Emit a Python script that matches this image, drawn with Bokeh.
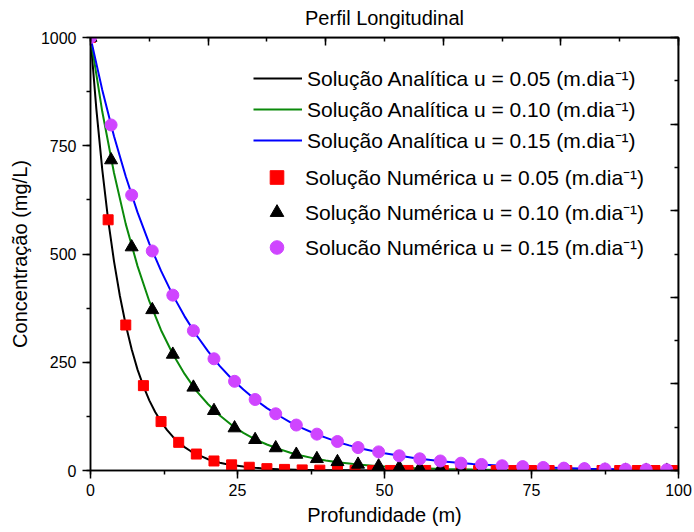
from bokeh.plotting import figure
from bokeh.models import Range1d, LinearAxis, SingleIntervalTicker, Legend, LegendItem, Span
from bokeh.embed import file_html
from bokeh.resources import INLINE

FONT = "Liberation Sans"

# ---- data ----
# numerical solution u = 0.05 (red squares)
num05_x = [0, 3, 6, 9, 12, 15, 18, 21, 24, 27, 30, 33, 36, 39, 42, 45, 48, 51, 54, 57,
           60, 63, 66, 69, 72, 75, 78, 81, 84, 87, 90, 93, 96, 99]
num05_y = [1000, 579, 336, 196, 113, 65, 38, 22, 13, 7.5, 4.3, 2.5, 1.4, 0.8, 0.5, 0.3, 0.2, 0.1, 0.1, 0.1,
           0, 0, 0, 0, 0, 0, 0, 0, 0, 0, 0, 0, 0, 0]
# numerical solution u = 0.10 (black triangles)
num10_x = [0, 3.5, 7, 10.5, 14, 17.5, 21, 24.5, 28, 31.5, 35, 38.5, 42, 45.5, 49, 52.5, 56, 59.5,
           63, 66.5, 70, 73.5, 77, 80.5, 84, 87.5, 91, 94.5, 98]
num10_y = [1000, 717, 516, 371, 268, 192, 138, 98, 71, 52, 37, 27, 20, 14, 10, 7, 5, 3.7,
           2.7, 1.9, 1.4, 1, 0.7, 0.5, 0.4, 0.3, 0.2, 0.1, 0.1]
# numerical solution u = 0.15 (magenta circles)
num15_x = [0, 3.5, 7, 10.5, 14, 17.5, 21, 24.5, 28, 31.5, 35, 38.5, 42, 45.5, 49, 52.5, 56, 59.5,
           63, 66.5, 70, 73.5, 77, 80.5, 84, 87.5, 91, 94.5, 98]
num15_y = [1000, 798, 636, 507, 405, 323, 258, 206, 164, 131, 105, 84, 67, 53, 43, 34, 27, 22,
           17, 14, 11, 9, 7, 5.5, 4.4, 3.5, 2.8, 2.2, 1.8]

# analytical solutions (curves)
ana05_x = [0, 1, 2, 3, 4, 5, 6, 7, 8, 9, 10, 11, 12, 13, 14, 15, 16, 17, 18, 19, 20,
           21, 22, 23, 24, 25, 26, 27, 28, 29, 30, 32, 35, 40, 45, 50, 60, 70, 80, 90, 100]
ana05_y = [1000, 834, 695, 579, 483, 403, 336, 280, 233, 195, 162, 135, 113, 94, 78, 65, 54, 45, 38, 32, 26,
           22, 18, 15, 13, 11, 9, 7.4, 6.2, 5.1, 4.3, 3.0, 1.7, 0.7, 0.3, 0.1, 0, 0, 0, 0, 0]
ana10_x = [0, 2, 4, 6, 8, 10, 12, 14, 16, 18, 20, 22, 24, 26, 28, 30, 32, 34, 36, 38, 40,
           42, 44, 46, 48, 50, 55, 60, 65, 70, 80, 90, 100]
ana10_y = [1000, 829, 687, 569, 472, 391, 324, 269, 223, 184, 153, 127, 105, 87, 72, 60, 50, 41, 34, 28, 23,
           19, 16, 13, 11, 9, 5.7, 3.6, 2.2, 1.4, 0.5, 0.2, 0.1]
ana15_x = [0, 2, 4, 6, 8, 10, 12, 14, 16, 18, 20, 22, 24, 26, 28, 30, 32, 34, 36, 38, 40,
           42, 44, 46, 48, 50, 55, 60, 65, 70, 75, 80, 85, 90, 95, 100]
ana15_y = [1000, 879, 772, 679, 596, 524, 461, 405, 356, 313, 275, 241, 212, 187, 164, 144, 127, 111, 98, 86, 76,
           66, 58, 51, 45, 40, 29, 21, 15, 11, 8, 5.7, 4.1, 3.0, 2.2, 1.6]

labels_ana = ["Solução Analítica u = 0.05 (m.dia⁻¹)",
              "Solução Analítica u = 0.10 (m.dia⁻¹)",
              "Solução Analítica u = 0.15 (m.dia⁻¹)"]
labels_num = ["Solução Numérica u = 0.05 (m.dia⁻¹)",
              "Solução Numérica u = 0.10 (m.dia⁻¹)",
              "Solucão Numérica u = 0.15 (m.dia⁻¹)"]

# axis limits and the ticks of the mirrored (unlabelled) top and right axes
x_min, x_max = 0, 100
y_min, y_max = 0, 1000
top_ticks = [0, 20, 40, 60, 80, 100]
right_ticks = [0, 200, 400, 600, 800, 1000]

# ---- figure ----
p = figure(width=694, height=532, x_range=Range1d(x_min, x_max), y_range=Range1d(y_min, y_max),
           output_backend="svg", toolbar_location=None,
           min_border_left=90, min_border_right=16, min_border_top=37, min_border_bottom=62,
           title="Perfil Longitudinal")
p.outline_line_color = "black"
p.outline_line_width = 1.5
p.outline_line_alpha = 1.0
p.grid.visible = False

p.title.text_font = FONT
p.title.text_font_style = "normal"
p.title.text_font_size = "20px"
p.title.text_color = "black"
p.title.align = "center"
p.title.standoff = 0

# bottom axis
xa = p.xaxis[0]
xa.ticker = SingleIntervalTicker(interval=25, num_minor_ticks=2)
xa.axis_label = "Profundidade (m)"
# left axis
ya = p.yaxis[0]
ya.ticker = SingleIntervalTicker(interval=250, num_minor_ticks=2)
ya.axis_label = "Concentração (mg/L)"

for ax in (xa, ya):
    ax.axis_line_width = 1.5
    ax.axis_line_color = "black"
    ax.major_tick_line_width = 1.5
    ax.minor_tick_line_width = 1.5
    ax.major_tick_in = 0
    ax.major_tick_out = 8
    ax.minor_tick_in = 0
    ax.minor_tick_out = 4
    ax.major_label_text_font = FONT
    ax.major_label_text_font_size = "16px"
    ax.major_label_text_color = "black"
    ax.axis_label_text_font = FONT
    ax.axis_label_text_font_size = "20px"
    ax.axis_label_text_font_style = "normal"
    ax.axis_label_text_color = "black"
xa.major_label_standoff = 5
xa.axis_label_standoff = 5
ya.major_label_standoff = 6
ya.axis_label_standoff = 7

# mirrored top / right axes (ticks inside, blank labels)
top = LinearAxis(ticker=SingleIntervalTicker(interval=20, num_minor_ticks=2),
                 major_label_overrides={t: " " for t in top_ticks})
right = LinearAxis(ticker=SingleIntervalTicker(interval=200, num_minor_ticks=2),
                   major_label_overrides={t: " " for t in right_ticks})
for ax in (top, right):
    ax.axis_line_width = 1.5
    ax.major_tick_line_width = 1.5
    ax.minor_tick_line_width = 1.5
    ax.major_tick_in = 8
    ax.major_tick_out = 0
    ax.minor_tick_in = 4
    ax.minor_tick_out = 0
    ax.major_label_text_font_size = "6px"
    ax.major_label_standoff = 0
p.add_layout(top, "above")
p.add_layout(right, "right")

# frame border lines at the top and right limits
p.add_layout(Span(location=y_max, dimension="width", line_color="black", line_width=1.5), "center")
p.add_layout(Span(location=x_max, dimension="height", line_color="black", line_width=1.5), "center")

# ---- glyphs ----
l05 = p.line(ana05_x, ana05_y, line_color="black", line_width=2)
l10 = p.line(ana10_x, ana10_y, line_color="#0B8A0B", line_width=2)
l15 = p.line(ana15_x, ana15_y, line_color="#0000FF", line_width=2)

s05 = p.scatter(num05_x, num05_y, marker="square", size=10, fill_color="#FF0000", line_color="#FF0000")
s10 = p.scatter(num10_x, num10_y, marker="triangle", size=13, fill_color="black", line_color="black")
s15 = p.scatter(num15_x, num15_y, marker="circle", size=12, fill_color="#CF45FF", line_color="#CF45FF")

def style_legend(lg, lh):
    lg.border_line_color = None
    lg.background_fill_alpha = 0
    lg.padding = 0
    lg.margin = 0
    lg.spacing = 1
    lg.glyph_width = 49
    lg.glyph_height = lh
    lg.label_height = lh
    lg.label_standoff = 5
    lg.label_text_font = FONT
    lg.label_text_font_size = "21px"
    lg.label_text_color = "black"

leg1 = Legend(items=[LegendItem(label=labels_ana[0], renderers=[l05]),
                     LegendItem(label=labels_ana[1], renderers=[l10]),
                     LegendItem(label=labels_ana[2], renderers=[l15])],
              location=(163, 315))
style_legend(leg1, 30)
leg2 = Legend(items=[LegendItem(label=labels_num[0], renderers=[s05]),
                     LegendItem(label=labels_num[1], renderers=[s10]),
                     LegendItem(label=labels_num[2], renderers=[s15])],
              location=(162, 206))
style_legend(leg2, 34)
leg2.label_standoff = 4
p.add_layout(leg1, "center")
p.add_layout(leg2, "center")

open("out.html", "w").write(file_html(p, INLINE))
